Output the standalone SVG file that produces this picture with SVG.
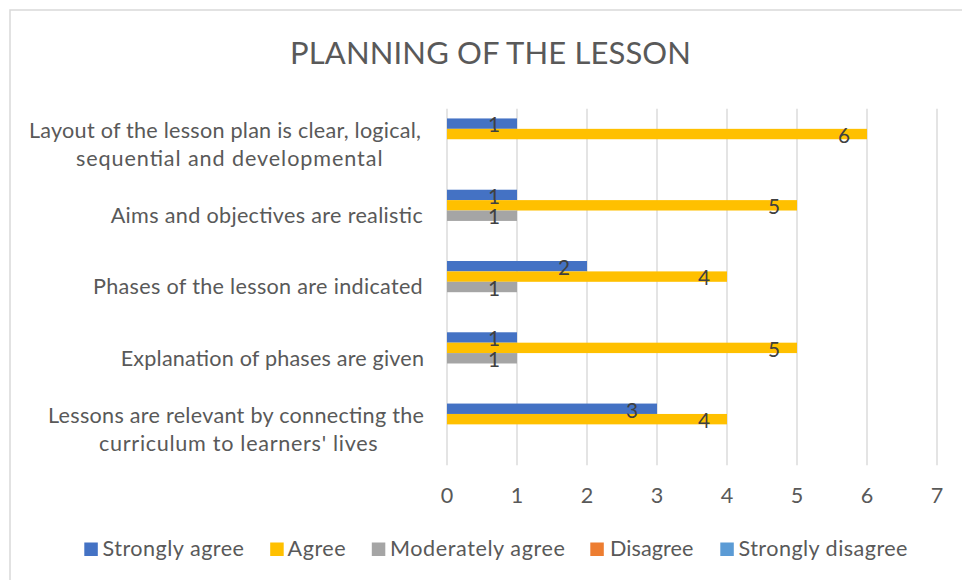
<svg xmlns="http://www.w3.org/2000/svg" width="962" height="580" viewBox="0 0 962 580">
<style>
text{font-family:Lato,"Open Sans","Liberation Sans",sans-serif}
.title{font-size:31px;fill:#595959}
.cat{font-size:21.6px;fill:#595959}
.tick{font-size:21.6px;fill:#595959;text-anchor:middle}
.dl{font-size:20.8px;fill:#404040;text-anchor:middle}
.leg{font-size:21.6px;fill:#595959}
.grid{stroke:#d9d9d9;stroke-width:1.4}
.s1{fill:#4472C4}.s2{fill:#FFC000}.s3{fill:#A5A5A5}.s4{fill:#ED7D31}.s5{fill:#5B9BD5}
</style>
<rect x="0" y="0" width="962" height="580" fill="#fff"/>
<rect x="10" y="10" width="970" height="600" fill="none" stroke="#d9d9d9" stroke-width="1.5"/>
<g id="title"><text class="title" x="290" y="64.3" textLength="401">PLANNING OF THE LESSON</text></g>
<g id="gridlines">
<line class="grid" x1="447" y1="108.8" x2="447" y2="465.2"/>
<line class="grid" x1="517" y1="108.8" x2="517" y2="465.2"/>
<line class="grid" x1="587" y1="108.8" x2="587" y2="465.2"/>
<line class="grid" x1="657" y1="108.8" x2="657" y2="465.2"/>
<line class="grid" x1="727" y1="108.8" x2="727" y2="465.2"/>
<line class="grid" x1="797" y1="108.8" x2="797" y2="465.2"/>
<line class="grid" x1="867" y1="108.8" x2="867" y2="465.2"/>
<line class="grid" x1="937" y1="108.8" x2="937" y2="465.2"/>
</g>
<g id="x-axis">
<text class="tick" x="447" y="503.3">0</text>
<text class="tick" x="517" y="503.3">1</text>
<text class="tick" x="587" y="503.3">2</text>
<text class="tick" x="657" y="503.3">3</text>
<text class="tick" x="727" y="503.3">4</text>
<text class="tick" x="797" y="503.3">5</text>
<text class="tick" x="867" y="503.3">6</text>
<text class="tick" x="937" y="503.3">7</text>
</g>
<g id="cat1">
<text class="cat" x="29" y="138" textLength="392">Layout of the lesson plan is clear, logical,</text>
<text class="cat" x="76" y="166" textLength="306.5">sequential and developmental</text>
<rect class="s1" x="447" y="118.44" width="70" height="10.4"/>
<rect class="s2" x="447" y="128.84" width="420" height="10.4"/>
<text class="dl" x="494" y="132.3">1</text>
<text class="dl" x="844" y="142.7">6</text>
</g>
<g id="cat2">
<text class="cat" x="110.7" y="223" textLength="312">Aims and objectives are realistic</text>
<rect class="s1" x="447" y="189.72" width="70" height="10.4"/>
<rect class="s2" x="447" y="200.12" width="350" height="10.4"/>
<rect class="s3" x="447" y="210.52" width="70" height="10.4"/>
<text class="dl" x="494" y="203.6">1</text>
<text class="dl" x="774" y="214">5</text>
<text class="dl" x="494" y="224.4">1</text>
</g>
<g id="cat3">
<text class="cat" x="93" y="294.3" textLength="329.7">Phases of the lesson are indicated</text>
<rect class="s1" x="447" y="261" width="140" height="10.4"/>
<rect class="s2" x="447" y="271.4" width="280" height="10.4"/>
<rect class="s3" x="447" y="281.8" width="70" height="10.4"/>
<text class="dl" x="564" y="274.9">2</text>
<text class="dl" x="704" y="285.3">4</text>
<text class="dl" x="494" y="295.7">1</text>
</g>
<g id="cat4">
<text class="cat" x="120.7" y="365.5" textLength="303.3">Explanation of phases are given</text>
<rect class="s1" x="447" y="332.28" width="70" height="10.4"/>
<rect class="s2" x="447" y="342.68" width="350" height="10.4"/>
<rect class="s3" x="447" y="353.08" width="70" height="10.4"/>
<text class="dl" x="494" y="346.2">1</text>
<text class="dl" x="774" y="356.6">5</text>
<text class="dl" x="494" y="367">1</text>
</g>
<g id="cat5">
<text class="cat" x="48" y="423" textLength="376">Lessons are relevant by connecting the</text>
<text class="cat" x="99" y="451" textLength="278.7">curriculum to learners' lives</text>
<rect class="s1" x="447" y="403.56" width="210" height="10.4"/>
<rect class="s2" x="447" y="413.96" width="280" height="10.4"/>
<text class="dl" x="632" y="417.5">3</text>
<text class="dl" x="704" y="427.9">4</text>
</g>
<g id="legend">
<rect class="s1" x="84.3" y="542.5" width="13.5" height="13.5"/>
<text class="leg" x="102.5" y="556" textLength="141.5">Strongly agree</text>
<rect class="s2" x="270.2" y="542.5" width="13.5" height="13.5"/>
<text class="leg" x="287.5" y="556" textLength="58.2">Agree</text>
<rect class="s3" x="371.8" y="542.5" width="13.5" height="13.5"/>
<text class="leg" x="390" y="556" textLength="174.8">Moderately agree</text>
<rect class="s4" x="590.3" y="542.5" width="13.5" height="13.5"/>
<text class="leg" x="610" y="556" textLength="83.5">Disagree</text>
<rect class="s5" x="720.3" y="542.5" width="13.5" height="13.5"/>
<text class="leg" x="738.5" y="556" textLength="169">Strongly disagree</text>
</g>
</svg>
